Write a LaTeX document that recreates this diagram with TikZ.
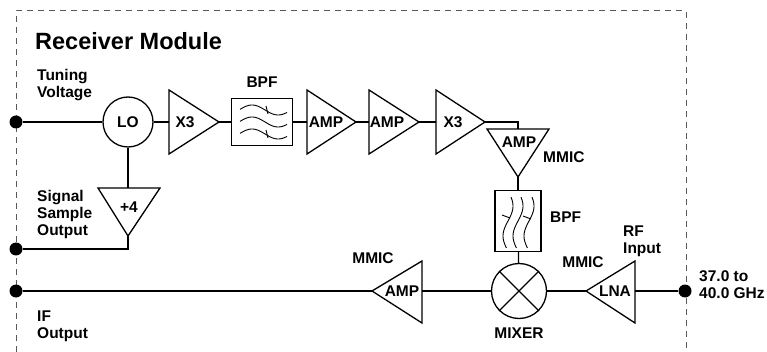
\documentclass[tikz,border=0pt]{standalone}
\usepackage{fontspec}
\setmainfont{Liberation Sans}
\usetikzlibrary{calc}

\tikzset{
  wire/.style={line width=1.3pt},
  blk/.style={draw, line width=1.3pt, inner sep=0pt},
  lbl/.style={font=\fontsize{15.5}{17}\selectfont\bfseries, align=left, inner sep=0pt},
  port/.style={circle, fill=black, inner sep=0pt, minimum size=13pt},
  frame/.style={black!65, line width=1pt, dash pattern=on 6pt off 5pt},
  wave/.style={line width=0.9pt, smooth, samples=30},
}

\begin{document}
\begin{tikzpicture}[x=1pt,y=-1pt]
	\useasboundingbox (0,0) rectangle (767,352);
	% module outline
	\draw[frame] (16,352) -- (16,11) -- (686,11) -- (686,352);
	\node[lbl, font=\fontsize{23.5}{25}\selectfont\bfseries, anchor=west] (title) at (35,41) {Receiver Module};

	% ports
	\node[port] (tune) at (16,122) {};
	\node[port] (samp) at (16,249) {};
	\node[port] (ifo) at (16,291) {};
	\node[port] (rfi) at (685,291) {};
	\node[lbl, anchor=west] (tune-lbl) at (37,85) {Tuning\\Voltage};
	\node[lbl, anchor=west] (samp-lbl) at (37,214) {Signal\\Sample\\Output};
	\node[lbl, anchor=west] (ifo-lbl) at (37,326) {IF\\Output};
	\node[lbl, anchor=west] (rfi-lbl) at (699,285) {37.0 to\\40.0 GHz};

	% local oscillator chain
	\node[blk, circle, minimum size=50pt, lbl] (lo) at (128,122) {LO};
	\draw[blk] (169,90) -- (219,122) -- (169,154) -- cycle;
	\coordinate (x3a-in) at (169,122); \coordinate (x3a-out) at (219,122);
	\node[lbl] (x3a) at (185,122) {X3};
	\node[blk, minimum width=61pt, minimum height=47pt] (bpfa) at (262,122) {};
	\node[lbl] (bpfa-lbl) at (262,82) {BPF};
	\begin{scope}[shift={(bpfa.center)}]
		\foreach \dy in {-12,0,12}
			\draw[wave, domain=-22:25] plot (\x, {\dy-5*cos(6.9*(\x+10))});
		\draw[line width=0.9pt] (4,-16) -- (6,-8);
		\draw[line width=0.9pt] (4,8) -- (6,16);
	\end{scope}
	\draw[blk] (307,90) -- (356,122) -- (307,154) -- cycle;
	\coordinate (amp1-in) at (307,122); \coordinate (amp1-out) at (356,122);
	\node[lbl] (amp1) at (326,122) {AMP};
	\draw[blk] (369,90) -- (419,122) -- (369,154) -- cycle;
	\coordinate (amp2-in) at (369,122); \coordinate (amp2-out) at (419,122);
	\node[lbl] (amp2) at (387,122) {AMP};
	\draw[blk] (436,90) -- (485,122) -- (436,154) -- cycle;
	\coordinate (x3b-in) at (436,122); \coordinate (x3b-out) at (485,122);
	\node[lbl] (x3b) at (453,122) {X3};
	\draw[blk] (487,129) -- (549,129) -- (518,177) -- cycle;
	\coordinate (amp3-in) at (518,129); \coordinate (amp3-out) at (518,177);
	\node[lbl] (amp3) at (519,142) {AMP};
	\node[lbl, anchor=west] (amp3-lbl) at (543,157) {MMIC};

	% divider
	\draw[blk] (98,188) -- (160,188) -- (128,236) -- cycle;
	\coordinate (div-in) at (128,188); \coordinate (div-out) at (128,236);
	\node[lbl] (div) at (129,207) {+4};

	% receive path
	\node[blk, minimum width=46pt, minimum height=61pt] (bpfb) at (518,221) {};
	\node[lbl, anchor=west] (bpfb-lbl) at (550,217) {BPF};
	\begin{scope}[shift={(bpfb.center)}]
		\foreach \dx in {-10,0,11}
			\draw[wave, domain=-24:27] plot ({\dx+5*cos(6*(\x+15))}, \x);
		\draw[line width=0.9pt] (-16,-6) -- (-8,-3);
		\draw[line width=0.9pt] (5,-5) -- (13,-2);
	\end{scope}
	\node[blk, circle, minimum size=55pt] (mix) at (519,291) {};
	\draw[wire] (mix.north west) -- (mix.south east);
	\draw[wire] (mix.north east) -- (mix.south west);
	\node[lbl] (mix-lbl) at (519,333) {MIXER};
	\draw[blk] (372,291) -- (422,261) -- (422,323) -- cycle;
	\coordinate (amp4-in) at (422,291); \coordinate (amp4-out) at (372,291);
	\node[lbl] (amp4) at (402,291) {AMP};
	\node[lbl] (amp4-lbl) at (373,258) {MMIC};
	\draw[blk] (586,291) -- (635,261) -- (635,323) -- cycle;
	\coordinate (lna-in) at (635,291); \coordinate (lna-out) at (586,291);
	\node[lbl] (lna) at (615,291) {LNA};
	\node[lbl] (lna-lbl) at (583,262) {MMIC};
	\node[lbl, anchor=west] (rf-lbl) at (623,241) {RF\\Input};

	% connections
	\draw[wire] (tune) -- (lo);
	\draw[wire] (lo) -- (x3a-in);
	\draw[wire] (x3a-out) -- (bpfa);
	\draw[wire] (bpfa) -- (amp1-in);
	\draw[wire] (amp1-out) -- (amp2-in);
	\draw[wire] (amp2-out) -- (x3b-in);
	\draw[wire] (x3b-out) -| (amp3-in);
	\draw[wire] (amp3-out) -- (bpfb);
	\draw[wire] (bpfb) -- (mix);
	\draw[wire] (lo) -- (div-in);
	\draw[wire] (div-out) |- (samp);
	\draw[wire] (rfi) -- (lna-in);
	\draw[wire] (lna-out) -- (mix);
	\draw[wire] (mix) -- (amp4-in);
	\draw[wire] (amp4-out) -- (ifo);
\end{tikzpicture}
\end{document}
